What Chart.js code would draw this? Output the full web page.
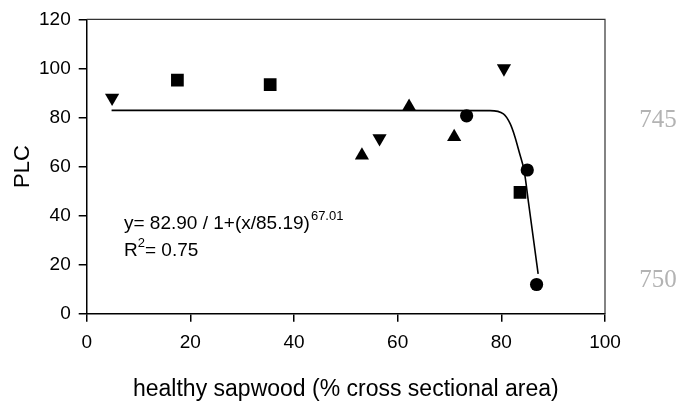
<!DOCTYPE html>
<html>
<head>
<meta charset="utf-8">
<script src="https://cdn.jsdelivr.net/npm/chart.js@4/dist/chart.umd.min.js"></script>
<style>
  html, body { margin: 0; padding: 0; background: #fff; }
  #wrap { width: 693px; height: 403px; }
</style>
</head>
<body>
<div id="wrap"><canvas id="grafico" width="693" height="403"></canvas></div>
<script>
// marker groups (x = healthy sapwood %, y = PLC)
let trianguloAbajo = [{x: 4.9, y: 88.0}, {x: 56.5, y: 71.5}, {x: 80.5, y: 100.0}];
let cuadrados = [{x: 17.5, y: 95.2}, {x: 35.4, y: 93.4}, {x: 83.6, y: 49.5}];
let trianguloArriba = [{x: 53.1, y: 64.5}, {x: 62.2, y: 84.4}, {x: 70.9, y: 72.1}];
let circulos = [{x: 73.3, y: 80.7}, {x: 85.0, y: 58.6}, {x: 86.8, y: 11.9}];

// fitted curve
let curvaX = [4.8, 40, 77.8, 80.4, 81.7, 82.6, 83.5, 84.4, 85.25, 86.3, 87.1];
let curvaY = [82.9, 82.9, 82.8, 81.5, 77.5, 72.3, 65.5, 58.3, 45.2, 28.8, 16.2];
let curva = curvaX.map((x, i) => ({x: x, y: curvaY[i]}));

let xTicks = [0, 20, 40, 60, 80, 100];
let yTicks = [0, 20, 40, 60, 80, 100, 120];

// box + equation + margin line numbers
const extras = {
  id: "extras",
  afterDraw(chart) {
    let ctx = chart.ctx;
    let a = chart.chartArea;
    ctx.save();
    ctx.strokeStyle = "#333";
    ctx.lineWidth = 1.2;
    ctx.beginPath();
    ctx.moveTo(a.left, a.top);
    ctx.lineTo(a.right, a.top);
    ctx.lineTo(a.right, a.bottom);
    ctx.stroke();

    ctx.fillStyle = "#000";
    ctx.textBaseline = "alphabetic";
    ctx.textAlign = "left";
    ctx.font = "19px 'Liberation Sans', Arial, sans-serif";
    let t1 = "y= 82.90 / 1+(x/85.19)";
    ctx.fillText(t1, 124, 229);
    let w1 = ctx.measureText(t1).width;
    ctx.font = "13px 'Liberation Sans', Arial, sans-serif";
    ctx.fillText("67.01", 124 + w1 + 1, 220);

    ctx.font = "19px 'Liberation Sans', Arial, sans-serif";
    ctx.fillText("R", 124, 256);
    let wr = ctx.measureText("R").width;
    ctx.font = "13px 'Liberation Sans', Arial, sans-serif";
    ctx.fillText("2", 124 + wr, 247);
    let w2 = ctx.measureText("2").width;
    ctx.font = "19px 'Liberation Sans', Arial, sans-serif";
    ctx.fillText("= 0.75", 124 + wr + w2, 256);

    ctx.fillStyle = "#b3b3b3";
    ctx.textAlign = "center";
    ctx.font = "25px 'Liberation Serif', 'DejaVu Serif', serif";
    ctx.fillText("745", 658, 127);
    ctx.fillText("750", 658, 287);
    ctx.restore();
  }
};

let fuenteTicks = {family: "'Liberation Sans', Arial, sans-serif", size: 19};

new Chart(document.getElementById("grafico").getContext("2d"), {
  type: "scatter",
  data: {
    datasets: [
      { data: trianguloAbajo, pointStyle: "triangle", rotation: 180, pointRadius: 8.2,
        backgroundColor: "#000", borderColor: "#000", borderWidth: 0 },
      { data: cuadrados, pointStyle: "rect", pointRadius: 9,
        backgroundColor: "#000", borderColor: "#000", borderWidth: 0 },
      { data: trianguloArriba, pointStyle: "triangle", pointRadius: 8.2,
        backgroundColor: "#000", borderColor: "#000", borderWidth: 0 },
      { data: circulos, pointStyle: "circle", pointRadius: 6.6,
        backgroundColor: "#000", borderColor: "#000", borderWidth: 0 },
      { data: curva, showLine: true, pointRadius: 0, borderColor: "#000", borderWidth: 1.6,
        cubicInterpolationMode: "monotone", fill: false }
    ]
  },
  options: {
    responsive: false,
    animation: false,
    layout: { padding: { top: 14, right: 88, left: 0, bottom: 0 } },
    plugins: { legend: { display: false }, tooltip: { enabled: false } },
    scales: {
      x: {
        type: "linear", min: 0, max: 100,
        afterBuildTicks: s => { s.ticks = xTicks.map(v => ({value: v})); },
        afterFit: s => { s.height = 89.3; },
        ticks: { color: "#000", font: fuenteTicks, padding: 10, maxRotation: 0 },
        grid: { display: true, drawOnChartArea: false, drawTicks: true, tickLength: 8, color: "#000", lineWidth: 1.5 },
        border: { display: true, color: "#000", width: 1.5 },
        title: { display: true, text: "healthy sapwood (% cross sectional area)", color: "#000",
          font: {family: "'Liberation Sans', Arial, sans-serif", size: 23}, padding: {top: 0, bottom: 0} }
      },
      y: {
        type: "linear", min: 0, max: 120,
        afterBuildTicks: s => { s.ticks = yTicks.map(v => ({value: v})); },
        afterFit: s => { s.width = 86.7; },
        ticks: { color: "#000", font: fuenteTicks, padding: 8 },
        grid: { display: true, drawOnChartArea: false, drawTicks: true, tickLength: 8, color: "#000", lineWidth: 1.5 },
        border: { display: true, color: "#000", width: 1.5 },
        title: { display: true, text: "PLC", color: "#000",
          font: {family: "'Liberation Sans', Arial, sans-serif", size: 22}, padding: {top: 10, bottom: 0} }
      }
    }
  },
  plugins: [extras]
});
</script>
</body>
</html>
